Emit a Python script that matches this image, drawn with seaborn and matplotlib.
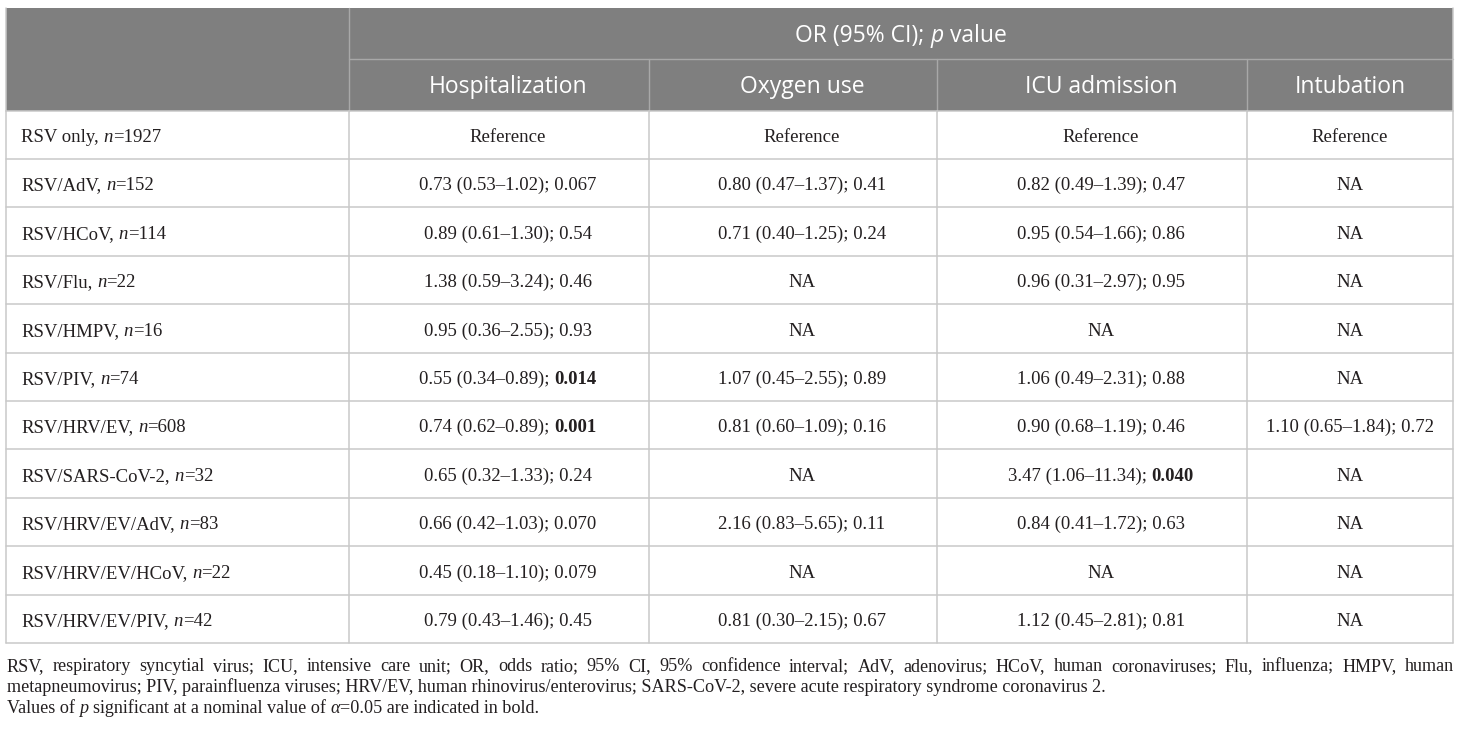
import numpy as np
import pandas as pd
import seaborn as sns
import matplotlib
matplotlib.use("Agg")
import matplotlib.pyplot as plt
from matplotlib.patches import Rectangle

groups = ["RSV only", "RSV/AdV", "RSV/HCoV", "RSV/Flu", "RSV/HMPV", "RSV/PIV", "RSV/HRV/EV",
          "RSV/SARS-CoV-2", "RSV/HRV/EV/AdV", "RSV/HRV/EV/HCoV", "RSV/HRV/EV/PIV"]
group_n = [1927, 152, 114, 22, 16, 74, 608, 32, 83, 22, 42]
outcomes = ["Hospitalization", "Oxygen use", "ICU admission", "Intubation"]

# a "*" in front of a p value means it is printed in bold
hospitalization = ["Reference", "0.73 (0.53–1.02); 0.067", "0.89 (0.61–1.30); 0.54", "1.38 (0.59–3.24); 0.46",
                   "0.95 (0.36–2.55); 0.93", "0.55 (0.34–0.89); *0.014", "0.74 (0.62–0.89); *0.001",
                   "0.65 (0.32–1.33); 0.24", "0.66 (0.42–1.03); 0.070", "0.45 (0.18–1.10); 0.079",
                   "0.79 (0.43–1.46); 0.45"]
oxygen_use = ["Reference", "0.80 (0.47–1.37); 0.41", "0.71 (0.40–1.25); 0.24", "NA", "NA",
              "1.07 (0.45–2.55); 0.89", "0.81 (0.60–1.09); 0.16", "NA", "2.16 (0.83–5.65); 0.11", "NA",
              "0.81 (0.30–2.15); 0.67"]
icu_admission = ["Reference", "0.82 (0.49–1.39); 0.47", "0.95 (0.54–1.66); 0.86", "0.96 (0.31–2.97); 0.95", "NA",
                 "1.06 (0.49–2.31); 0.88", "0.90 (0.68–1.19); 0.46", "3.47 (1.06–11.34); *0.040",
                 "0.84 (0.41–1.72); 0.63", "NA", "1.12 (0.45–2.81); 0.81"]
intubation = ["Reference", "NA", "NA", "NA", "NA", "NA", "1.10 (0.65–1.84); 0.72", "NA", "NA", "NA", "NA"]

footnote_1 = ("RSV, respiratory syncytial virus; ICU, intensive care unit; OR, odds ratio; 95% CI, 95% confidence "
              "interval; AdV, adenovirus; HCoV, human coronaviruses; Flu, influenza; HMPV, human")
footnote_2 = ("metapneumovirus; PIV, parainfluenza viruses; HRV/EV, human rhinovirus/enterovirus; SARS-CoV-2, "
              "severe acute respiratory syndrome coronavirus 2.")

table = pd.DataFrame({"Hospitalization": hospitalization, "Oxygen use": oxygen_use,
                      "ICU admission": icu_admission, "Intubation": intubation}, index=groups)

sns.set_theme(style="white")

HEAD_BG = "#7f7f7f"
HEAD_LINE = "#a8a8a8"
GRID = "#c9c9c9"
INK = "#231f20"

styles = {
    "reg": dict(family="Liberation Serif", size=13.5, color=INK),
    "it": dict(family="Liberation Serif", size=13.5, style="italic", color=INK),
    "bf": dict(family="Liberation Serif", size=13.5, weight="bold", color=INK),
    "h": dict(family="Open Sans", size=16.5, color="white"),
    "hit": dict(family="Open Sans", size=16.5, style="italic", color="white"),
    "f": dict(family="Liberation Serif", size=13.1, color=INK),
    "fit": dict(family="Liberation Serif", size=13.1, style="italic", color=INK),
}

fig = plt.figure(figsize=(14.6, 7.3), dpi=100)
ax = fig.add_axes([0, 0, 1, 1])
ax.set_xlim(0, 1460)
ax.set_ylim(730, 0)
ax.axis("off")

fig.canvas.draw()
renderer = fig.canvas.get_renderer()
_bar = {}


def measure(text, st):
    if st not in _bar:
        t = ax.text(0, 0, "||", **styles[st])
        _bar[st] = t.get_window_extent(renderer).width
        t.remove()
    t = ax.text(0, 0, "|" + text + "|", **styles[st])
    w = t.get_window_extent(renderer).width - _bar[st]
    t.remove()
    return w


def draw_runs(x, y, runs, ha="center"):
    widths = [measure(txt, st) for txt, st in runs]
    start = x - sum(widths) / 2 if ha == "center" else x
    for (txt, st), w in zip(runs, widths):
        lead = txt[:len(txt) - len(txt.lstrip())]
        off = measure(lead, st) if lead else 0
        if txt.strip():
            ax.text(start + off, y, txt.strip(), ha="left", va="baseline", **styles[st])
        start += w


def cell_runs(s):
    if "*" in s:
        pre, p = s.split("*")
        return [(pre, "reg"), (p, "bf")]
    return [(s, "reg")]


# table geometry
left, right = 6, 1453
col_edges = [left, 349, 649, 937, 1247, right]
text_cx = [508, 802, 1101, 1350]
top, mid, head_bot = 7.5, 59, 110.5
row_h = 48.4
n_rows = len(table)
bottom = head_bot + row_h * n_rows

ax.add_patch(Rectangle((left, top), right - left, head_bot - top, color=HEAD_BG, lw=0, zorder=0))
# header inner lines
ax.plot([col_edges[1], right], [mid, mid], color=HEAD_LINE, lw=1)
ax.plot([col_edges[1]] * 2, [top, head_bot], color=HEAD_LINE, lw=1)
for xe in col_edges[2:-1]:
    ax.plot([xe, xe], [mid, head_bot], color=HEAD_LINE, lw=1)

# body grid
for i in range(n_rows + 1):
    yy = head_bot + i * row_h
    ax.plot([left, right], [yy, yy], color=GRID, lw=1.1)
for xe in col_edges:
    ax.plot([xe, xe], [head_bot, bottom], color=GRID, lw=1.1)
ax.plot([left, left], [top, head_bot], color=GRID, lw=1.1)
ax.plot([right, right], [top, head_bot], color=GRID, lw=1.1)

# header text
draw_runs((col_edges[1] + right) / 2, (top + mid) / 2 + 8.5,
          [("OR (95% CI); ", "h"), ("p", "hit"), (" value", "h")])
for cx, name in zip(text_cx, table.columns):
    draw_runs(cx, (mid + head_bot) / 2 + 8.5, [(name, "h")])

# body text
for i, (grp, n) in enumerate(zip(table.index, group_n)):
    yb = head_bot + (i + 0.5) * row_h + 7.3
    draw_runs(21, yb, [(grp + ", ", "reg"), ("n", "it"), ("=" + str(n), "reg")], ha="left")
    for cx, col in zip(text_cx, table.columns):
        draw_runs(cx, yb, cell_runs(table[col].iloc[i]))

# footnotes, first line justified
words = footnote_1.split(" ")
ww = [measure(w, "f") for w in words]
gap = (right - left - sum(ww)) / (len(words) - 1)
xx = left + 1
for w, wd in zip(words, ww):
    ax.text(xx, 671, w, ha="left", va="baseline", **styles["f"])
    xx += wd + gap
draw_runs(left + 1, 692, [(footnote_2, "f")], ha="left")
draw_runs(left + 1, 713, [("Values of ", "f"), ("p", "fit"), (" significant at a nominal value of ", "f"),
                          ("α", "fit"), ("=0.05 are indicated in bold.", "f")], ha="left")

fig.savefig("out.png", dpi=100, facecolor="white")
